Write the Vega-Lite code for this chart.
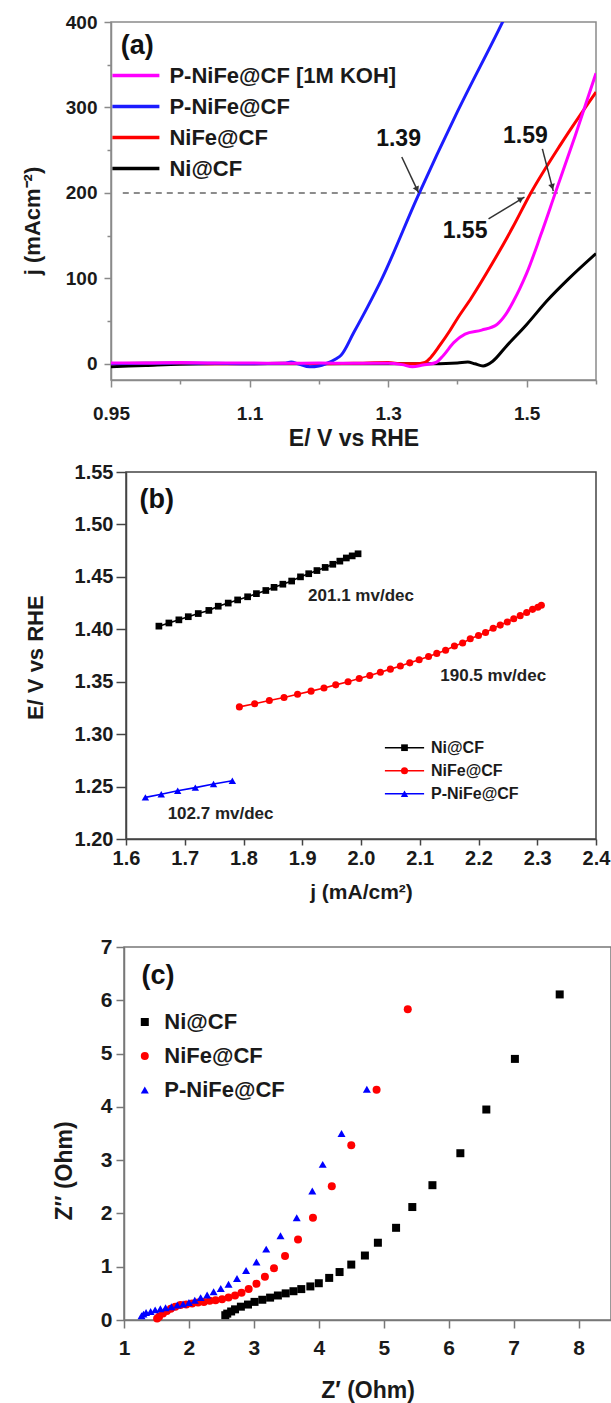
{
  "$schema": "https://vega.github.io/schema/vega-lite/v6.json",
  "padding": {"left": 11, "top": 12, "right": 0, "bottom": 0},
  "background": "white",
  "config": {
    "font": "Liberation Sans",
    "view": {"stroke": "#808080", "strokeWidth": 1.5},
    "axis": {"grid": false, "labelFont": "Liberation Sans", "labelFontWeight": "bold", "labelColor": "#1a1a1a", "titleFont": "Liberation Sans", "titleFontWeight": "bold", "titleColor": "#1a1a1a", "domainColor": "#808080", "tickColor": "#808080", "domainWidth": 1.5, "tickWidth": 1.5, "labelFlush": false, "labelOverlap": false},
    "legend": {"padding": 0, "labelFont": "Liberation Sans", "labelFontWeight": "bold", "labelColor": "#1a1a1a", "labelLimit": 400},
    "text": {"font": "Liberation Sans"}
  },
  "datasets": {
    "lsv": [
      {"s":"Ni@CF","E":0.9,"j":-3.5},{"s":"Ni@CF","E":0.95,"j":-2},{"s":"Ni@CF","E":1.0,"j":-0.5},{"s":"Ni@CF","E":1.05,"j":0},{"s":"Ni@CF","E":1.1,"j":0},{"s":"Ni@CF","E":1.2,"j":0},{"s":"Ni@CF","E":1.3,"j":0},{"s":"Ni@CF","E":1.35,"j":0},{"s":"Ni@CF","E":1.4,"j":1},{"s":"Ni@CF","E":1.415,"j":2},{"s":"Ni@CF","E":1.425,"j":0},{"s":"Ni@CF","E":1.437,"j":-2.5},{"s":"Ni@CF","E":1.451,"j":3},{"s":"Ni@CF","E":1.47,"j":20},{"s":"Ni@CF","E":1.5,"j":46},{"s":"Ni@CF","E":1.5293,"j":73.7},{"s":"Ni@CF","E":1.56,"j":99},{"s":"Ni@CF","E":1.6,"j":129},
      {"s":"NiFe@CF","E":0.9,"j":0},{"s":"NiFe@CF","E":0.95,"j":0.5},{"s":"NiFe@CF","E":1.0,"j":0.5},{"s":"NiFe@CF","E":1.05,"j":0},{"s":"NiFe@CF","E":1.1,"j":0},{"s":"NiFe@CF","E":1.15,"j":0.5},{"s":"NiFe@CF","E":1.2,"j":0},{"s":"NiFe@CF","E":1.25,"j":0.5},{"s":"NiFe@CF","E":1.3,"j":1.5},{"s":"NiFe@CF","E":1.32,"j":0},{"s":"NiFe@CF","E":1.34,"j":0},{"s":"NiFe@CF","E":1.353,"j":1.5},{"s":"NiFe@CF","E":1.3615,"j":7.4},{"s":"NiFe@CF","E":1.375,"j":22},{"s":"NiFe@CF","E":1.389,"j":38.6},{"s":"NiFe@CF","E":1.4,"j":53},{"s":"NiFe@CF","E":1.42,"j":77},{"s":"NiFe@CF","E":1.45,"j":117},{"s":"NiFe@CF","E":1.48,"j":160},{"s":"NiFe@CF","E":1.5053,"j":199},{"s":"NiFe@CF","E":1.55,"j":258},{"s":"NiFe@CF","E":1.6,"j":318},
      {"s":"P-NiFe@CF","E":0.9,"j":0},{"s":"P-NiFe@CF","E":0.95,"j":0.5},{"s":"P-NiFe@CF","E":1.0,"j":1},{"s":"P-NiFe@CF","E":1.05,"j":0.5},{"s":"P-NiFe@CF","E":1.1,"j":0},{"s":"P-NiFe@CF","E":1.15,"j":0.5},{"s":"P-NiFe@CF","E":1.16,"j":2},{"s":"P-NiFe@CF","E":1.17,"j":0},{"s":"P-NiFe@CF","E":1.187,"j":-3.5},{"s":"P-NiFe@CF","E":1.2,"j":-2.5},{"s":"P-NiFe@CF","E":1.21,"j":0},{"s":"P-NiFe@CF","E":1.225,"j":6},{"s":"P-NiFe@CF","E":1.232,"j":10},{"s":"P-NiFe@CF","E":1.25,"j":36},{"s":"P-NiFe@CF","E":1.27,"j":66},{"s":"P-NiFe@CF","E":1.2895,"j":97},{"s":"P-NiFe@CF","E":1.3423,"j":195},{"s":"P-NiFe@CF","E":1.4,"j":295},{"s":"P-NiFe@CF","E":1.4646,"j":399},{"s":"P-NiFe@CF","E":1.47,"j":408},
      {"s":"P-NiFe@CF [1M KOH]","E":0.9,"j":1},{"s":"P-NiFe@CF [1M KOH]","E":0.95,"j":1},{"s":"P-NiFe@CF [1M KOH]","E":1.0,"j":1.5},{"s":"P-NiFe@CF [1M KOH]","E":1.05,"j":1},{"s":"P-NiFe@CF [1M KOH]","E":1.1,"j":1},{"s":"P-NiFe@CF [1M KOH]","E":1.15,"j":0.5},{"s":"P-NiFe@CF [1M KOH]","E":1.2,"j":1},{"s":"P-NiFe@CF [1M KOH]","E":1.25,"j":0.5},{"s":"P-NiFe@CF [1M KOH]","E":1.3,"j":0.5},{"s":"P-NiFe@CF [1M KOH]","E":1.32,"j":-1},{"s":"P-NiFe@CF [1M KOH]","E":1.335,"j":-3.5},{"s":"P-NiFe@CF [1M KOH]","E":1.35,"j":-1.5},{"s":"P-NiFe@CF [1M KOH]","E":1.369,"j":1.5},{"s":"P-NiFe@CF [1M KOH]","E":1.38,"j":10},{"s":"P-NiFe@CF [1M KOH]","E":1.395,"j":25},{"s":"P-NiFe@CF [1M KOH]","E":1.411,"j":34.7},{"s":"P-NiFe@CF [1M KOH]","E":1.435,"j":39.4},{"s":"P-NiFe@CF [1M KOH]","E":1.457,"j":46},{"s":"P-NiFe@CF [1M KOH]","E":1.47,"j":58},{"s":"P-NiFe@CF [1M KOH]","E":1.4813,"j":74},{"s":"P-NiFe@CF [1M KOH]","E":1.49,"j":88},{"s":"P-NiFe@CF [1M KOH]","E":1.5,"j":106},{"s":"P-NiFe@CF [1M KOH]","E":1.52,"j":150},{"s":"P-NiFe@CF [1M KOH]","E":1.5413,"j":200},{"s":"P-NiFe@CF [1M KOH]","E":1.57,"j":267},{"s":"P-NiFe@CF [1M KOH]","E":1.6,"j":340}
    ],
    "tafel": [
      {"s":"Ni@CF","s2":"Ni@CF","j":1.656,"E":1.403},{"s":"Ni@CF","s2":"Ni@CF","j":1.673,"E":1.406},{"s":"Ni@CF","s2":"Ni@CF","j":1.69,"E":1.409},{"s":"Ni@CF","s2":"Ni@CF","j":1.706,"E":1.412},{"s":"Ni@CF","s2":"Ni@CF","j":1.723,"E":1.415},{"s":"Ni@CF","s2":"Ni@CF","j":1.741,"E":1.418},{"s":"Ni@CF","s2":"Ni@CF","j":1.757,"E":1.422},{"s":"Ni@CF","s2":"Ni@CF","j":1.774,"E":1.425},{"s":"Ni@CF","s2":"Ni@CF","j":1.79,"E":1.428},{"s":"Ni@CF","s2":"Ni@CF","j":1.807,"E":1.431},{"s":"Ni@CF","s2":"Ni@CF","j":1.822,"E":1.434},{"s":"Ni@CF","s2":"Ni@CF","j":1.838,"E":1.437},{"s":"Ni@CF","s2":"Ni@CF","j":1.852,"E":1.44},{"s":"Ni@CF","s2":"Ni@CF","j":1.867,"E":1.443},{"s":"Ni@CF","s2":"Ni@CF","j":1.882,"E":1.446},{"s":"Ni@CF","s2":"Ni@CF","j":1.897,"E":1.45},{"s":"Ni@CF","s2":"Ni@CF","j":1.911,"E":1.453},{"s":"Ni@CF","s2":"Ni@CF","j":1.925,"E":1.456},{"s":"Ni@CF","s2":"Ni@CF","j":1.939,"E":1.459},{"s":"Ni@CF","s2":"Ni@CF","j":1.952,"E":1.462},{"s":"Ni@CF","s2":"Ni@CF","j":1.964,"E":1.465},{"s":"Ni@CF","s2":"Ni@CF","j":1.975,"E":1.468},{"s":"Ni@CF","s2":"Ni@CF","j":1.985,"E":1.47},{"s":"Ni@CF","s2":"Ni@CF","j":1.995,"E":1.472},
      {"s":"NiFe@CF","s2":"NiFe@CF","j":1.793,"E":1.326},{"s":"NiFe@CF","s2":"NiFe@CF","j":1.819,"E":1.329},{"s":"NiFe@CF","s2":"NiFe@CF","j":1.844,"E":1.332},{"s":"NiFe@CF","s2":"NiFe@CF","j":1.869,"E":1.335},{"s":"NiFe@CF","s2":"NiFe@CF","j":1.892,"E":1.338},{"s":"NiFe@CF","s2":"NiFe@CF","j":1.915,"E":1.341},{"s":"NiFe@CF","s2":"NiFe@CF","j":1.937,"E":1.344},{"s":"NiFe@CF","s2":"NiFe@CF","j":1.957,"E":1.347},{"s":"NiFe@CF","s2":"NiFe@CF","j":1.978,"E":1.35},{"s":"NiFe@CF","s2":"NiFe@CF","j":1.997,"E":1.353},{"s":"NiFe@CF","s2":"NiFe@CF","j":2.015,"E":1.356},{"s":"NiFe@CF","s2":"NiFe@CF","j":2.033,"E":1.359},{"s":"NiFe@CF","s2":"NiFe@CF","j":2.05,"E":1.362},{"s":"NiFe@CF","s2":"NiFe@CF","j":2.067,"E":1.365},{"s":"NiFe@CF","s2":"NiFe@CF","j":2.083,"E":1.368},{"s":"NiFe@CF","s2":"NiFe@CF","j":2.099,"E":1.371},{"s":"NiFe@CF","s2":"NiFe@CF","j":2.115,"E":1.374},{"s":"NiFe@CF","s2":"NiFe@CF","j":2.129,"E":1.377},{"s":"NiFe@CF","s2":"NiFe@CF","j":2.144,"E":1.38},{"s":"NiFe@CF","s2":"NiFe@CF","j":2.159,"E":1.384},{"s":"NiFe@CF","s2":"NiFe@CF","j":2.173,"E":1.387},{"s":"NiFe@CF","s2":"NiFe@CF","j":2.186,"E":1.391},{"s":"NiFe@CF","s2":"NiFe@CF","j":2.2,"E":1.394},{"s":"NiFe@CF","s2":"NiFe@CF","j":2.212,"E":1.397},{"s":"NiFe@CF","s2":"NiFe@CF","j":2.225,"E":1.401},{"s":"NiFe@CF","s2":"NiFe@CF","j":2.237,"E":1.404},{"s":"NiFe@CF","s2":"NiFe@CF","j":2.249,"E":1.407},{"s":"NiFe@CF","s2":"NiFe@CF","j":2.26,"E":1.41},{"s":"NiFe@CF","s2":"NiFe@CF","j":2.271,"E":1.413},{"s":"NiFe@CF","s2":"NiFe@CF","j":2.282,"E":1.416},{"s":"NiFe@CF","s2":"NiFe@CF","j":2.292,"E":1.419},{"s":"NiFe@CF","s2":"NiFe@CF","j":2.301,"E":1.421},{"s":"NiFe@CF","s2":"NiFe@CF","j":2.307,"E":1.423},
      {"s":"P-NiFe@CF","s2":"P-NiFe@CF","j":1.633,"E":1.2397},{"s":"P-NiFe@CF","s2":"P-NiFe@CF","j":1.66,"E":1.2426},{"s":"P-NiFe@CF","s2":"P-NiFe@CF","j":1.688,"E":1.246},{"s":"P-NiFe@CF","s2":"P-NiFe@CF","j":1.718,"E":1.249},{"s":"P-NiFe@CF","s2":"P-NiFe@CF","j":1.749,"E":1.2524},{"s":"P-NiFe@CF","s2":"P-NiFe@CF","j":1.781,"E":1.2556}
    ],
    "eis": [
      {"s":"Ni@CF","Zr":7.71,"Zi":6.11},{"s":"Ni@CF","Zr":7.02,"Zi":4.9},{"s":"Ni@CF","Zr":6.58,"Zi":3.95},{"s":"Ni@CF","Zr":6.18,"Zi":3.13},{"s":"Ni@CF","Zr":5.75,"Zi":2.53},{"s":"Ni@CF","Zr":5.44,"Zi":2.12},{"s":"Ni@CF","Zr":5.19,"Zi":1.73},{"s":"Ni@CF","Zr":4.91,"Zi":1.45},{"s":"Ni@CF","Zr":4.71,"Zi":1.21},{"s":"Ni@CF","Zr":4.5,"Zi":1.04},{"s":"Ni@CF","Zr":4.32,"Zi":0.9},{"s":"Ni@CF","Zr":4.16,"Zi":0.79},{"s":"Ni@CF","Zr":4.0,"Zi":0.69},{"s":"Ni@CF","Zr":3.87,"Zi":0.63},{"s":"Ni@CF","Zr":3.73,"Zi":0.58},{"s":"Ni@CF","Zr":3.61,"Zi":0.54},{"s":"Ni@CF","Zr":3.49,"Zi":0.5},{"s":"Ni@CF","Zr":3.37,"Zi":0.46},{"s":"Ni@CF","Zr":3.25,"Zi":0.42},{"s":"Ni@CF","Zr":3.13,"Zi":0.38},{"s":"Ni@CF","Zr":3.01,"Zi":0.34},{"s":"Ni@CF","Zr":2.91,"Zi":0.29},{"s":"Ni@CF","Zr":2.8,"Zi":0.25},{"s":"Ni@CF","Zr":2.71,"Zi":0.2},{"s":"Ni@CF","Zr":2.65,"Zi":0.16},{"s":"Ni@CF","Zr":2.59,"Zi":0.12},{"s":"Ni@CF","Zr":2.56,"Zi":0.09},
      {"s":"NiFe@CF","Zr":5.37,"Zi":5.83},{"s":"NiFe@CF","Zr":4.89,"Zi":4.32},{"s":"NiFe@CF","Zr":4.5,"Zi":3.28},{"s":"NiFe@CF","Zr":4.2,"Zi":2.51},{"s":"NiFe@CF","Zr":3.91,"Zi":1.92},{"s":"NiFe@CF","Zr":3.68,"Zi":1.51},{"s":"NiFe@CF","Zr":3.48,"Zi":1.2},{"s":"NiFe@CF","Zr":3.31,"Zi":0.97},{"s":"NiFe@CF","Zr":3.17,"Zi":0.81},{"s":"NiFe@CF","Zr":3.04,"Zi":0.68},{"s":"NiFe@CF","Zr":2.92,"Zi":0.58},{"s":"NiFe@CF","Zr":2.81,"Zi":0.51},{"s":"NiFe@CF","Zr":2.71,"Zi":0.46},{"s":"NiFe@CF","Zr":2.61,"Zi":0.42},{"s":"NiFe@CF","Zr":2.51,"Zi":0.39},{"s":"NiFe@CF","Zr":2.41,"Zi":0.37},{"s":"NiFe@CF","Zr":2.32,"Zi":0.36},{"s":"NiFe@CF","Zr":2.23,"Zi":0.34},{"s":"NiFe@CF","Zr":2.14,"Zi":0.33},{"s":"NiFe@CF","Zr":2.05,"Zi":0.31},{"s":"NiFe@CF","Zr":1.96,"Zi":0.29},{"s":"NiFe@CF","Zr":1.87,"Zi":0.28},{"s":"NiFe@CF","Zr":1.79,"Zi":0.25},{"s":"NiFe@CF","Zr":1.72,"Zi":0.21},{"s":"NiFe@CF","Zr":1.66,"Zi":0.17},{"s":"NiFe@CF","Zr":1.6,"Zi":0.12},{"s":"NiFe@CF","Zr":1.54,"Zi":0.06},{"s":"NiFe@CF","Zr":1.51,"Zi":0.03},
      {"s":"P-NiFe@CF","Zr":4.74,"Zi":4.33},{"s":"P-NiFe@CF","Zr":4.35,"Zi":3.5},{"s":"P-NiFe@CF","Zr":4.06,"Zi":2.92},{"s":"P-NiFe@CF","Zr":3.9,"Zi":2.42},{"s":"P-NiFe@CF","Zr":3.66,"Zi":1.92},{"s":"P-NiFe@CF","Zr":3.41,"Zi":1.58},{"s":"P-NiFe@CF","Zr":3.19,"Zi":1.33},{"s":"P-NiFe@CF","Zr":3.04,"Zi":1.09},{"s":"P-NiFe@CF","Zr":2.88,"Zi":0.93},{"s":"P-NiFe@CF","Zr":2.74,"Zi":0.78},{"s":"P-NiFe@CF","Zr":2.61,"Zi":0.67},{"s":"P-NiFe@CF","Zr":2.49,"Zi":0.59},{"s":"P-NiFe@CF","Zr":2.38,"Zi":0.53},{"s":"P-NiFe@CF","Zr":2.28,"Zi":0.47},{"s":"P-NiFe@CF","Zr":2.18,"Zi":0.42},{"s":"P-NiFe@CF","Zr":2.09,"Zi":0.37},{"s":"P-NiFe@CF","Zr":2.0,"Zi":0.33},{"s":"P-NiFe@CF","Zr":1.91,"Zi":0.3},{"s":"P-NiFe@CF","Zr":1.82,"Zi":0.28},{"s":"P-NiFe@CF","Zr":1.73,"Zi":0.25},{"s":"P-NiFe@CF","Zr":1.64,"Zi":0.23},{"s":"P-NiFe@CF","Zr":1.56,"Zi":0.21},{"s":"P-NiFe@CF","Zr":1.48,"Zi":0.19},{"s":"P-NiFe@CF","Zr":1.41,"Zi":0.16},{"s":"P-NiFe@CF","Zr":1.34,"Zi":0.14},{"s":"P-NiFe@CF","Zr":1.3,"Zi":0.11},{"s":"P-NiFe@CF","Zr":1.27,"Zi":0.08}
    ]
  },
  "columns": 1,
  "align": "none",
  "spacing": 9,
  "resolve": {
    "scale": {"color": "independent", "shape": "independent", "size": "independent", "stroke": "independent"},
    "legend": {"color": "independent", "shape": "independent", "size": "independent", "stroke": "independent"}
  },
  "concat": [
    {
      "spacing": 0,
      "resolve": {
        "scale": {"color": "independent", "shape": "independent", "size": "independent", "stroke": "independent"},
        "legend": {"color": "independent", "shape": "independent", "size": "independent", "stroke": "independent"}
      },
      "hconcat": [
        {"width": 1, "height": 1, "view": {"stroke": null}, "data": {"values": []}, "mark": "text", "encoding": {}},
        {
          "width": 485,
          "height": 358,
          "view": {"stroke": "#8a8a8a", "strokeWidth": 1.5},
          "layer": [
            {
              "data": {"values": [{"E": 0.917, "E2": 1.6, "j": 200}]},
              "mark": {"type": "rule", "strokeDash": [6, 5], "color": "#8c8c8c", "strokeWidth": 2},
              "encoding": {
                "x": {"field": "E", "type": "quantitative", "title": "E/ V vs RHE"},
                "x2": {"field": "E2"},
                "y": {"field": "j", "type": "quantitative", "title": "j (mAcm⁻²)"}
              }
            },
            {
              "data": {"name": "lsv"},
              "mark": {"type": "line", "strokeWidth": 3, "clip": true, "interpolate": "monotone"},
              "encoding": {
                "x": {"field": "E", "type": "quantitative", "title": "E/ V vs RHE",
                  "scale": {"domain": [0.9, 1.6], "nice": false, "zero": false},
                  "axis": {"values": [0.9, 1.0, 1.1, 1.2, 1.3, 1.4, 1.5, 1.6],
                    "labelExpr": "datum.value < 0.95 ? '0.95' : (round(datum.value*10) % 2 == 1 ? format(datum.value, '.1f') : '')",
                    "tickSize": {"condition": {"test": "round(datum.value*10) % 2 == 1", "value": 7}, "value": 4},
                    "labelFontSize": 19, "labelPadding": 17, "titleFontSize": 23, "titleY": 58.7, "titleBaseline": "middle",
                    "domainColor": "#8a8a8a", "tickColor": "#8a8a8a"}},
                "y": {"field": "j", "type": "quantitative", "title": "j (mAcm⁻²)",
                  "scale": {"domain": [-19, 400], "nice": false, "zero": false},
                  "axis": {"values": [0, 50, 100, 150, 200, 250, 300, 350, 400],
                    "labelExpr": "datum.value % 100 == 0 ? format(datum.value, '.0f') : ''",
                    "tickSize": {"condition": {"test": "datum.value % 100 == 0", "value": 7}, "value": 4},
                    "labelFontSize": 19, "labelPadding": 7, "titleFontSize": 22,
                    "titleX": -78.3, "titleY": 198.5, "titleBaseline": "middle", "titleAlign": "center",
                    "minExtent": 97.3, "maxExtent": 97.3,
                    "domainColor": "#8a8a8a", "tickColor": "#8a8a8a"}},
                "color": {"field": "s", "type": "nominal",
                  "scale": {"domain": ["P-NiFe@CF [1M KOH]", "P-NiFe@CF", "NiFe@CF", "Ni@CF"], "range": ["#ff00ff", "#1c1cff", "#ff0000", "#000000"]},
                  "legend": {"orient": "none", "legendX": 12.9, "legendY": 41.5, "title": null,
                    "symbolType": "M-2.35,0H2.35", "symbolSize": 400, "symbolStrokeWidth": 3.5,
                    "labelFontSize": 22, "labelOffset": 21.5, "rowPadding": 8, "labelLimit": 400}}
              }
            },
            {
              "data": {"values": [
                {"E": 1.3197, "j": 242, "E2": 1.344, "j2": 200},
                {"E": 1.5226, "j": 251.5, "E2": 1.5384, "j2": 202},
                {"E": 1.4449, "j": 169.6, "E2": 1.4967, "j2": 195}
              ]},
              "mark": {"type": "rule", "color": "#333333", "strokeWidth": 1.5},
              "encoding": {
                "x": {"field": "E", "type": "quantitative", "title": "E/ V vs RHE"},
                "x2": {"field": "E2"},
                "y": {"field": "j", "type": "quantitative", "title": "j (mAcm⁻²)"},
                "y2": {"field": "j2"}
              }
            },
            {
              "data": {"values": [{"E": 1.3417, "j": 204}]},
              "mark": {"type": "point", "shape": "triangle-up", "filled": true, "opacity": 1, "color": "#333333", "size": 45, "angle": 154.6},
              "encoding": {
                "x": {"field": "E", "type": "quantitative", "title": "E/ V vs RHE"},
                "y": {"field": "j", "type": "quantitative", "title": "j (mAcm⁻²)"}
              }
            },
            {
              "data": {"values": [{"E": 1.5369, "j": 207}]},
              "mark": {"type": "point", "shape": "triangle-up", "filled": true, "opacity": 1, "color": "#333333", "size": 45, "angle": 164.6},
              "encoding": {
                "x": {"field": "E", "type": "quantitative", "title": "E/ V vs RHE"},
                "y": {"field": "j", "type": "quantitative", "title": "j (mAcm⁻²)"}
              }
            },
            {
              "data": {"values": [{"E": 1.4918, "j": 192.9}]},
              "mark": {"type": "point", "shape": "triangle-up", "filled": true, "opacity": 1, "color": "#333333", "size": 45, "angle": 58.3},
              "encoding": {
                "x": {"field": "E", "type": "quantitative", "title": "E/ V vs RHE"},
                "y": {"field": "j", "type": "quantitative", "title": "j (mAcm⁻²)"}
              }
            },
            {
              "data": {"values": [
                {"E": 1.315, "j": 263, "t": "1.39"},
                {"E": 1.498, "j": 267, "t": "1.59"},
                {"E": 1.411, "j": 155.6, "t": "1.55"}
              ]},
              "mark": {"type": "text", "fontSize": 23, "fontWeight": "bold", "color": "#111111", "align": "center", "baseline": "middle"},
              "encoding": {
                "x": {"field": "E", "type": "quantitative", "title": "E/ V vs RHE"},
                "y": {"field": "j", "type": "quantitative", "title": "j (mAcm⁻²)"},
                "text": {"field": "t"}
              }
            },
            {
              "data": {"values": [{"E": 0.914, "j": 372, "t": "(a)"}]},
              "mark": {"type": "text", "fontSize": 27, "fontWeight": "bold", "color": "#111111", "align": "left", "baseline": "middle"},
              "encoding": {
                "x": {"field": "E", "type": "quantitative", "title": "E/ V vs RHE"},
                "y": {"field": "j", "type": "quantitative", "title": "j (mAcm⁻²)"},
                "text": {"field": "t"}
              }
            }
          ]
        }
      ]
    },
    {
      "spacing": 0,
      "resolve": {
        "scale": {"color": "independent", "shape": "independent", "size": "independent", "stroke": "independent"},
        "legend": {"color": "independent", "shape": "independent", "size": "independent", "stroke": "independent"}
      },
      "hconcat": [
        {"width": 1, "height": 1, "view": {"stroke": null}, "data": {"values": []}, "mark": "text", "encoding": {}},
        {
          "width": 470,
          "height": 367,
          "view": {"stroke": "#444444", "strokeWidth": 1.5},
          "layer": [
            {
              "data": {"name": "tafel"},
              "mark": {"type": "line", "strokeWidth": 1.6},
              "encoding": {
                "x": {"field": "j", "type": "quantitative", "title": "j (mA/cm²)",
                  "scale": {"domain": [1.6, 2.4], "nice": false, "zero": false},
                  "axis": {"values": [1.6, 1.65, 1.7, 1.75, 1.8, 1.85, 1.9, 1.95, 2.0, 2.05, 2.1, 2.15, 2.2, 2.25, 2.3, 2.35, 2.4],
                    "labelExpr": "round(datum.value*100) % 10 == 0 ? format(datum.value, '.1f') : ''",
                    "tickSize": {"condition": {"test": "round(datum.value*100) % 10 == 0", "value": 6}, "value": 3.5},
                    "labelFontSize": 20, "labelPadding": 3, "titleFontSize": 21, "titleY": 53, "titleBaseline": "middle",
                    "minExtent": 86, "maxExtent": 86,
                    "domainColor": "#444444", "tickColor": "#444444"}},
                "y": {"field": "E", "type": "quantitative", "title": "E/ V vs RHE",
                  "scale": {"domain": [1.2, 1.55], "nice": false, "zero": false},
                  "axis": {"values": [1.2, 1.225, 1.25, 1.275, 1.3, 1.325, 1.35, 1.375, 1.4, 1.425, 1.45, 1.475, 1.5, 1.525, 1.55],
                    "labelExpr": "round(datum.value*1000) % 50 == 0 ? format(datum.value, '.2f') : ''",
                    "tickSize": {"condition": {"test": "round(datum.value*1000) % 50 == 0", "value": 10}, "value": 6},
                    "labelFontSize": 20, "labelPadding": 3, "titleFontSize": 22,
                    "titleX": -90.8, "titleY": 185.2, "titleBaseline": "middle", "titleAlign": "center",
                    "minExtent": 113, "maxExtent": 113,
                    "domainColor": "#444444", "tickColor": "#444444"}},
                "stroke": {"field": "s2", "type": "nominal",
                  "scale": {"range": ["#000000", "#ff0000", "#0000ff"]},
                  "legend": {"orient": "none", "legendX": 270.5, "legendY": 267.7, "title": null,
                    "symbolType": "M-4.9,0H4.9", "symbolSize": 64, "symbolStrokeWidth": 1.6,
                    "labelFontSize": 16, "labelOffset": 18.5, "rowPadding": 7, "labelOpacity": 0}}
              }
            },
            {
              "data": {"name": "tafel"},
              "mark": {"type": "point", "filled": true, "opacity": 1},
              "encoding": {
                "x": {"field": "j", "type": "quantitative", "title": "j (mA/cm²)"},
                "y": {"field": "E", "type": "quantitative", "title": "E/ V vs RHE"},
                "color": {"field": "s", "type": "nominal",
                  "scale": {"domain": ["Ni@CF", "NiFe@CF", "P-NiFe@CF"], "range": ["#000000", "#ff0000", "#0000ff"]},
                  "legend": {"orient": "none", "legendX": 270.5, "legendY": 267.7, "title": null,
                    "symbolSize": 60, "labelFontSize": 16, "labelOffset": 18.5, "rowPadding": 7}},
                "shape": {"field": "s", "type": "nominal",
                  "scale": {"domain": ["Ni@CF", "NiFe@CF", "P-NiFe@CF"], "range": ["square", "circle", "triangle-up"]}},
                "size": {"field": "s", "type": "ordinal",
                  "scale": {"domain": ["Ni@CF", "NiFe@CF", "P-NiFe@CF"], "range": [45, 55, 64]}, "legend": null}
              }
            },
            {
              "data": {"values": [
                {"j": 2.0, "E": 1.432, "t": "201.1 mv/dec"},
                {"j": 2.225, "E": 1.3557, "t": "190.5 mv/dec"},
                {"j": 1.761, "E": 1.2243, "t": "102.7 mv/dec"}
              ]},
              "mark": {"type": "text", "fontSize": 17, "fontWeight": "bold", "color": "#222222", "align": "center", "baseline": "middle"},
              "encoding": {
                "x": {"field": "j", "type": "quantitative", "title": "j (mA/cm²)"},
                "y": {"field": "E", "type": "quantitative", "title": "E/ V vs RHE"},
                "text": {"field": "t"}
              }
            },
            {
              "data": {"values": [{"j": 1.6231, "E": 1.5236, "t": "(b)"}]},
              "mark": {"type": "text", "fontSize": 27, "fontWeight": "bold", "color": "#111111", "align": "left", "baseline": "middle"},
              "encoding": {
                "x": {"field": "j", "type": "quantitative", "title": "j (mA/cm²)"},
                "y": {"field": "E", "type": "quantitative", "title": "E/ V vs RHE"},
                "text": {"field": "t"}
              }
            }
          ]
        }
      ]
    },
    {
      "spacing": 0,
      "resolve": {
        "scale": {"color": "independent", "shape": "independent", "size": "independent", "stroke": "independent"},
        "legend": {"color": "independent", "shape": "independent", "size": "independent", "stroke": "independent"}
      },
      "hconcat": [
        {"width": 1, "height": 1, "view": {"stroke": null}, "data": {"values": []}, "mark": "text", "encoding": {}},
        {
          "width": 487,
          "height": 373,
          "view": {"stroke": "#777777", "strokeWidth": 1.5},
          "layer": [
            {
              "data": {"name": "eis"},
              "mark": {"type": "point", "filled": true, "opacity": 1},
              "encoding": {
                "x": {"field": "Zr", "type": "quantitative", "title": "Z′ (Ohm)",
                  "scale": {"domain": [1, 8.5], "nice": false, "zero": false},
                  "axis": {"values": [1, 1.5, 2, 2.5, 3, 3.5, 4, 4.5, 5, 5.5, 6, 6.5, 7, 7.5, 8, 8.5],
                    "labelExpr": "datum.value % 1 == 0 ? format(datum.value, '.0f') : ''",
                    "tickSize": {"condition": {"test": "datum.value % 1 == 0", "value": 8}, "value": 4},
                    "labelFontSize": 21, "labelPadding": 9, "titleFontSize": 23, "titleY": 70, "titleBaseline": "middle",
                    "domainColor": "#777777", "tickColor": "#777777"}},
                "y": {"field": "Zi", "type": "quantitative", "title": "Z″ (Ohm)",
                  "scale": {"domain": [0, 7], "nice": false, "zero": false},
                  "axis": {"values": [0, 0.5, 1, 1.5, 2, 2.5, 3, 3.5, 4, 4.5, 5, 5.5, 6, 6.5, 7],
                    "labelExpr": "datum.value % 1 == 0 ? format(datum.value, '.0f') : ''",
                    "tickSize": {"condition": {"test": "datum.value % 1 == 0", "value": 8}, "value": 4},
                    "labelFontSize": 21, "labelPadding": 4, "titleFontSize": 23,
                    "titleX": -59.5, "titleY": 223.5, "titleBaseline": "middle", "titleAlign": "center",
                    "minExtent": 111, "maxExtent": 111,
                    "domainColor": "#777777", "tickColor": "#777777"}},
                "color": {"field": "s", "type": "nominal",
                  "scale": {"domain": ["Ni@CF", "NiFe@CF", "P-NiFe@CF"], "range": ["#000000", "#ff0000", "#0000ff"]},
                  "legend": {"orient": "none", "legendX": 9.8, "legendY": 64, "title": null,
                    "symbolSize": 75, "labelFontSize": 22, "labelOffset": 8.5, "rowPadding": 12}},
                "shape": {"field": "s", "type": "nominal",
                  "scale": {"domain": ["Ni@CF", "NiFe@CF", "P-NiFe@CF"], "range": ["square", "circle", "triangle-up"]}},
                "size": {"field": "s", "type": "ordinal",
                  "scale": {"domain": ["Ni@CF", "NiFe@CF", "P-NiFe@CF"], "range": [64, 64, 100]}, "legend": null}
              }
            },
            {
              "data": {"values": [{"Zr": 1.27, "Zi": 6.45, "t": "(c)"}]},
              "mark": {"type": "text", "fontSize": 27, "fontWeight": "bold", "color": "#111111", "align": "left", "baseline": "middle"},
              "encoding": {
                "x": {"field": "Zr", "type": "quantitative", "title": "Z′ (Ohm)"},
                "y": {"field": "Zi", "type": "quantitative", "title": "Z″ (Ohm)"},
                "text": {"field": "t"}
              }
            }
          ]
        }
      ]
    }
  ]
}
